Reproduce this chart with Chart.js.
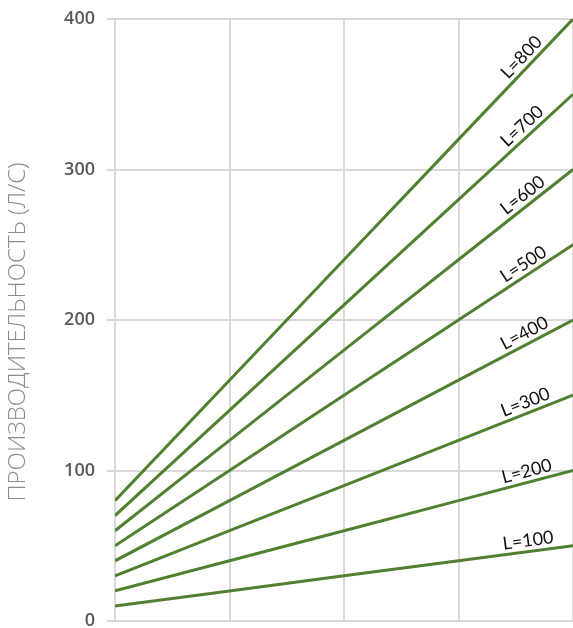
<!DOCTYPE html>
<html>
<head>
<meta charset="utf-8">
<script src="https://cdn.jsdelivr.net/npm/chart.js@4.4.1/dist/chart.umd.min.js"></script>
<style>
  html, body { margin: 0; padding: 0; background: #ffffff; }
  #wrap { width: 573px; height: 628px; position: relative; }
</style>
</head>
<body>
<div id="wrap"><canvas id="c"></canvas></div>
<script>
// Pipe length (m) of each curve and flow rate (l/s) at the five grid stations
const stations = [1, 2, 3, 4, 5];
const lengths = [100, 200, 300, 400, 500, 600, 700, 800];
const flowL100 = [10, 20, 30, 40, 50];
const flowL200 = [20, 40, 60, 80, 100];
const flowL300 = [30, 60, 90, 120, 150];
const flowL400 = [40, 80, 120, 160, 200];
const flowL500 = [50, 100, 150, 200, 250];
const flowL600 = [60, 120, 180, 240, 300];
const flowL700 = [70, 140, 210, 280, 350];
const flowL800 = [80, 160, 240, 320, 400];
const yTicks = [0, 100, 200, 300, 400];
const yTitle = 'ПРОИЗВОДИТЕЛЬНОСТЬ (Л/С)';

const series = [flowL100, flowL200, flowL300, flowL400, flowL500, flowL600, flowL700, flowL800];
const lineGreen = '#4f8131';

const datasets = series.map((vals, i) => ({
  label: 'L=' + lengths[i],
  data: vals.map((v, j) => ({ x: stations[j], y: v })),
  borderColor: lineGreen,
  borderWidth: 3,
  pointRadius: 0,
  fill: false,
  tension: 0
}));

// Writes "L=…" along each curve near its right end
const curveLabels = {
  id: 'curveLabels',
  afterDatasetsDraw(chart) {
    const { ctx, scales } = chart;
    const xs = scales.x, ys = scales.y;
    const at = 4.62;
    ctx.save();
    ctx.font = '18px Lato';
    ctx.fillStyle = '#111111';
    ctx.textAlign = 'center';
    ctx.textBaseline = 'middle';
    chart.data.datasets.forEach(ds => {
      const a = ds.data[3], b = ds.data[4];
      const x1 = xs.getPixelForValue(a.x), y1 = ys.getPixelForValue(a.y);
      const x2 = xs.getPixelForValue(b.x), y2 = ys.getPixelForValue(b.y);
      const t = (at - a.x) / (b.x - a.x);
      const px = x1 + (x2 - x1) * t, py = y1 + (y2 - y1) * t;
      const ang = Math.atan2(y2 - y1, x2 - x1);
      const off = 11;
      const cx = px + Math.sin(ang) * off, cy = py - Math.cos(ang) * off;
      ctx.save();
      ctx.translate(cx, cy);
      ctx.rotate(ang);
      ctx.fillText(ds.label, 0, 0);
      ctx.restore();
    });
    ctx.restore();
  }
};

// Vertical axis caption at the far left
const axisCaption = {
  id: 'axisCaption',
  afterDraw(chart) {
    const { ctx, chartArea } = chart;
    ctx.save();
    ctx.font = '300 24px "Open Sans"';
    ctx.fillStyle = '#8c8c8c';
    ctx.textAlign = 'center';
    ctx.textBaseline = 'middle';
    ctx.translate(18, (chartArea.top + chartArea.bottom) / 2 + 12);
    ctx.rotate(-Math.PI / 2);
    ctx.fillText(yTitle, 0, 0);
    ctx.restore();
  }
};

new Chart(document.getElementById('c'), {
  type: 'line',
  data: { datasets },
  options: {
    responsive: true,
    maintainAspectRatio: false,
    animation: false,
    layout: { padding: { top: 19, right: 0, bottom: 7, left: 0 } },
    plugins: { legend: { display: false }, tooltip: { enabled: false } },
    scales: {
      x: {
        type: 'linear',
        min: 1, max: 5,
        afterFit(scale) { scale.height = 0; scale.paddingLeft = 0; scale.paddingRight = 0; },
        ticks: { display: false, stepSize: 1 },
        grid: { color: '#d9d9d9', lineWidth: 2, drawTicks: false },
        border: { display: false }
      },
      y: {
        min: 0, max: 400,
        afterBuildTicks(scale) { scale.ticks = yTicks.map(v => ({ value: v })); },
        afterFit(scale) { scale.width = 115; scale.paddingTop = 0; scale.paddingBottom = 0; },
        ticks: {
          color: '#595959',
          font: { family: 'Open Sans', size: 18, weight: '600' },
          padding: 12
        },
        grid: { color: '#d9d9d9', lineWidth: 2, tickLength: 8 },
        border: { display: false }
      }
    }
  },
  plugins: [curveLabels, axisCaption]
});
</script>
</body>
</html>
